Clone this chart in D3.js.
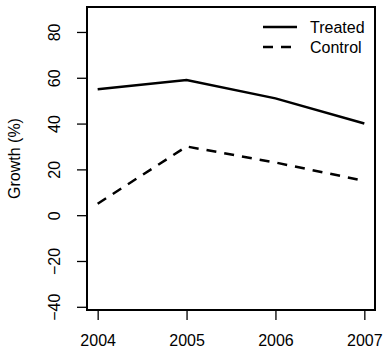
<!DOCTYPE html>
<html>
<head>
<meta charset="UTF-8">
<script src="https://d3js.org/d3.v7.min.js"></script>
<style>
  body { margin: 0; background: #fff; }
  text { font-family: "Liberation Sans", Arial, sans-serif; fill: #000; }
</style>
</head>
<body>
<svg id="chart"></svg>
<script>
// data
const years = [2004, 2005, 2006, 2007];
const treated = [55, 59, 51, 40];
const control = [5, 30, 23, 15];
const yTicks = [-40, -20, 0, 20, 40, 60, 80];
const seriesNames = ["Treated", "Control"];

const width = 386, height = 349;
const box = {left: 87, right: 375, top: 7, bottom: 310};

const svg = d3.select("#chart")
    .attr("width", width)
    .attr("height", height);

const x = d3.scaleLinear()
    .domain([2003.88, 2007.12])
    .range([box.left, box.right]);
const y = d3.scaleLinear()
    .domain([-41.4, 90.9])
    .range([box.bottom, box.top]);

// axes (R style, ticks outside, no domain line)
const xAxis = svg.append("g")
    .attr("transform", "translate(0," + box.bottom + ")")
    .call(d3.axisBottom(x).tickValues(years).tickFormat(d3.format("d")).tickSize(10).tickPadding(14));
xAxis.select(".domain").remove();
xAxis.selectAll("line").attr("stroke", "#000").attr("stroke-width", 1.3);
xAxis.selectAll("text").attr("font-size", 16).attr("dy", null).attr("y", 36)
    .style("font-family", "'Liberation Sans', Arial, sans-serif");

const yAxis = svg.append("g")
    .attr("transform", "translate(" + box.left + ",0)")
    .call(d3.axisLeft(y).tickValues(yTicks).tickFormat(d => d < 0 ? "\u2212" + Math.abs(d) : d).tickSize(10));
yAxis.select(".domain").remove();
yAxis.selectAll("line").attr("stroke", "#000").attr("stroke-width", 1.3);
yAxis.selectAll("text")
    .attr("font-size", 16)
    .attr("x", null).attr("dy", null)
    .attr("text-anchor", "middle")
    .attr("transform", "translate(-27,0) rotate(-90)")
    .style("font-family", "'Liberation Sans', Arial, sans-serif");

// frame
svg.append("rect")
    .attr("x", box.left).attr("y", box.top)
    .attr("width", box.right - box.left).attr("height", box.bottom - box.top)
    .attr("fill", "none").attr("stroke", "#000").attr("stroke-width", 2);

// y label
svg.append("text")
    .attr("transform", "translate(20," + ((box.top + box.bottom) / 2) + ") rotate(-90)")
    .attr("text-anchor", "middle")
    .attr("font-size", 16)
    .text("Growth (%)");

// lines
const line = d3.line()
    .x((d, i) => x(years[i]))
    .y(d => y(d));

svg.append("path").datum(treated)
    .attr("d", line).attr("fill", "none")
    .attr("stroke", "#000").attr("stroke-width", 2.5);
svg.append("path").datum(control)
    .attr("d", line).attr("fill", "none")
    .attr("stroke", "#000").attr("stroke-width", 2.5)
    .attr("stroke-dasharray", "10,8");

// legend
const leg = svg.append("g");
seriesNames.forEach((name, i) => {
  const ly = 27 + i * 20;
  leg.append("line")
      .attr("x1", 263).attr("x2", 297).attr("y1", ly).attr("y2", ly)
      .attr("stroke", "#000").attr("stroke-width", 2.5)
      .attr("stroke-dasharray", i === 1 ? "10,8" : null);
  leg.append("text")
      .attr("x", 310).attr("y", ly + 6)
      .attr("font-size", 16)
      .text(name);
});
</script>
</body>
</html>
